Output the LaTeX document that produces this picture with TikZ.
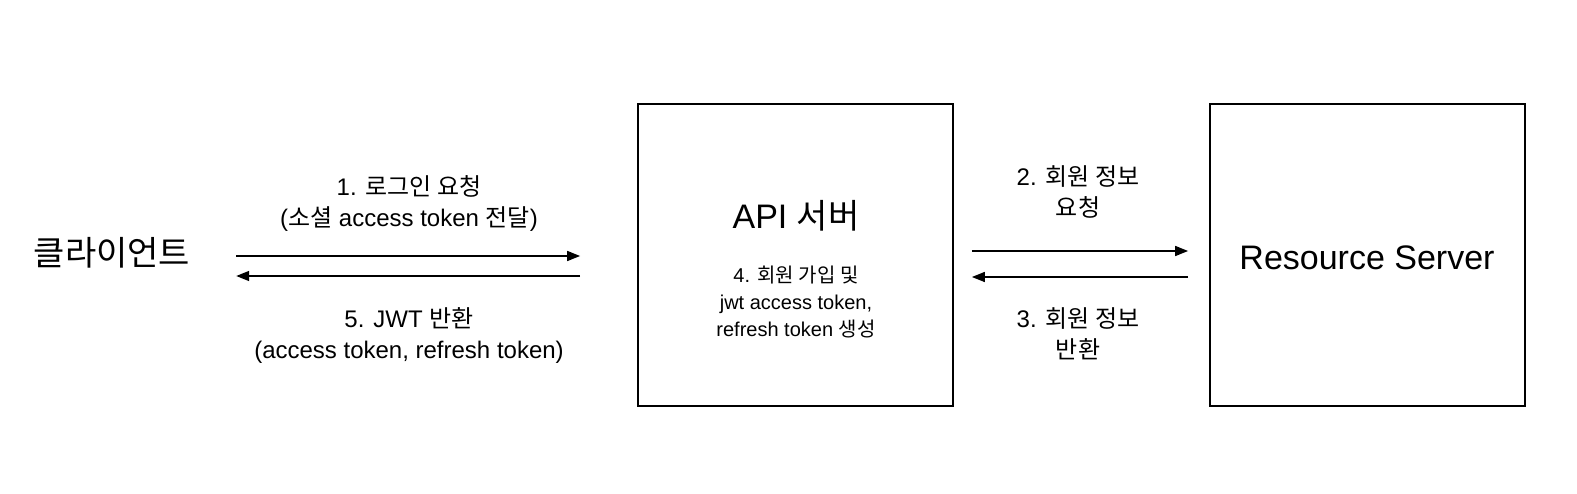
\documentclass[tikz,border=0pt]{standalone}
\usepackage{fontspec}
\setmainfont{Liberation Sans}
\newfontfamily\kr{Noto Sans CJK KR}
\usetikzlibrary{arrows.meta}
\tikzset{
  server/.style={draw=black, line width=1.8pt, minimum width=315pt, minimum height=302pt, inner sep=0pt},
  title/.style={font=\fontsize{34}{40}\selectfont, align=center},
  lbl/.style={font=\fontsize{24}{31}\selectfont, align=center, inner sep=0pt},
  inlbl/.style={font=\fontsize{20}{27}\selectfont, align=center, inner sep=0pt},
  arr/.style={line width=1.6pt, -{Triangle[length=13pt,width=10pt]}}
}
\begin{document}
\begin{tikzpicture}[x=1pt,y=1pt]
\useasboundingbox[fill=white] (0,0) rectangle (1577,-494);
% nodes
\node[title, minimum width=248pt, inner sep=0pt] (client) at (112,-253) {\kr 클라이언트};
\node[server] (api) at (795.5,-255) {};
\node[server] (res) at (1367.5,-255) {};
\node[title] (apit) at (796,-216) {API {\kr 서버}};
\node[inlbl] (apid) at (796,-302) {4. {\kr 회원 가입 및}\\jwt access token,\\refresh token {\kr 생성}};
\node[title] (rest) at (1367,-258) {Resource Server};
% labels
\node[lbl] (l1) at (409,-204) {1. {\kr 로그인 요청}\\({\kr 소셜} access token {\kr 전달})};
\node[lbl] (l5) at (409,-336) {5. JWT {\kr 반환}\\(access token, refresh token)};
\node[lbl] (l2) at (1078,-191.5) {2. {\kr 회원 정보}\\{\kr 요청}};
\node[lbl] (l3) at (1078,-333.5) {3. {\kr 회원 정보}\\{\kr 반환}};
% connectors
\draw[arr] ([yshift=-3pt]client.east) -- ([xshift=-57pt,yshift=-1pt]api.west);
\draw[arr] ([xshift=-57pt,yshift=-21pt]api.west) -- ([yshift=-23pt]client.east);
\draw[arr] ([xshift=18pt,yshift=4pt]api.east) -- ([xshift=-21pt,yshift=4pt]res.west);
\draw[arr] ([xshift=-21pt,yshift=-22pt]res.west) -- ([xshift=18pt,yshift=-22pt]api.east);
\end{tikzpicture}
\end{document}
